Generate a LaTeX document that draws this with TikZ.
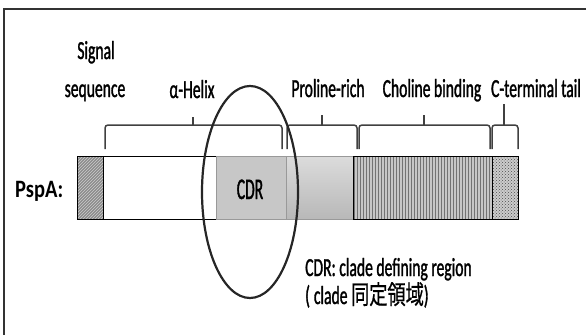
\documentclass[tikz,border=0pt]{standalone}
\usepackage{fontspec}
\setmainfont[FakeStretch=0.6,FakeBold=1.2]{Carlito}
\newfontfamily\boldlbl[FakeStretch=0.82]{Carlito}
\newfontfamily\cdrfont[FakeStretch=0.52,FakeBold=1.2]{Carlito}
\newfontfamily\cjk[FakeStretch=0.7,FakeBold=0.6]{Noto Sans CJK JP}
\usetikzlibrary{patterns}
\tikzset{
  lbl/.style={inner sep=0pt, font=\fontsize{26}{30}\selectfont, text=black},
  seg/.style={rectangle, inner sep=0pt, anchor=north west, minimum height=63pt, line width=1.4pt},
  brk/.style={draw=black!75, line width=1.5pt, rounded corners=3pt},
  frame/.style={draw=black!80, line width=1.4pt}
}
\begin{document}
\begin{tikzpicture}[x=1pt,y=-1pt]
\useasboundingbox (0,0) rectangle (587,335);
% frame
\draw[frame] (586,9) -- (4,9) -- (4,335);
% labels above
\node[lbl, anchor=base] (sig1) at (96,59) {Signal};
\node[lbl, anchor=base] (sig2) at (95,97) {sequence};
\node[lbl, anchor=base] (helix) at (192,98) {α-Helix};
\node[lbl, anchor=base] (pro) at (328,97) {Proline-rich};
\node[lbl, anchor=base] (cho) at (432,97) {Choline binding};
\node[lbl, anchor=base] (cter) at (536,97) {C-terminal tail};
% brackets
\draw[brk] (105,149) -- (105,125) -- (282,125) -- (282,149);
\draw[brk] (193,125) -- (193,117);
\draw[brk] (287,149) -- (287,125) -- (357,125) -- (357,149);
\draw[brk] (322,125) -- (322,115);
\draw[brk] (359,149) -- (359,125) -- (490,125) -- (490,149);
\draw[brk] (424,125) -- (424,115);
\draw[brk] (492,149) -- (492,125) -- (518,125) -- (518,149);
\draw[brk] (504,125) -- (504,104);
% bar segments
\node[seg, minimum width=26pt, preaction={fill=black!45}, pattern=north east lines, pattern color=white!80!black, draw=black] (ssig) at (77,156) {};
\node[seg, minimum width=113pt, fill=white, draw=black] (shel) at (103,156) {};
\node[seg, minimum width=70pt, fill=black!22, draw=black!40] (scdr) at (216,156) {};
\node[seg, minimum width=67pt, top color=black!14, bottom color=black!28, draw=black!40] (spro) at (286,156) {};
\node[seg, minimum width=139pt, preaction={fill=black!22}, pattern=vertical lines, pattern color=black!55, draw=black] (scho) at (353,156) {};
\node[seg, minimum width=26pt, preaction={fill=black!20}, pattern=crosshatch dots, pattern color=black!70, draw=black] (scte) at (492,156) {};
% texts in and around bar
\node[inner sep=0pt, anchor=base, font=\fontsize{30}{34}\cdrfont, text=black] (cdrtxt) at (250,199) {CDR};
\node[inner sep=0pt, anchor=base west, font=\fontsize{25}{28}\boldlbl\bfseries] (pspa) at (15,197) {PspA:};
% ellipse
\draw[line width=2.2pt, black!85] (250,192) ellipse [x radius=48pt, y radius=106pt];
% note
\node[lbl, anchor=base west] (note1) at (305,276) {CDR: clade defining region};
\node[lbl, anchor=base west] (note2) at (305,304) {(\hspace{4pt}clade {\cjk 同定領域})};
\end{tikzpicture}
\end{document}
